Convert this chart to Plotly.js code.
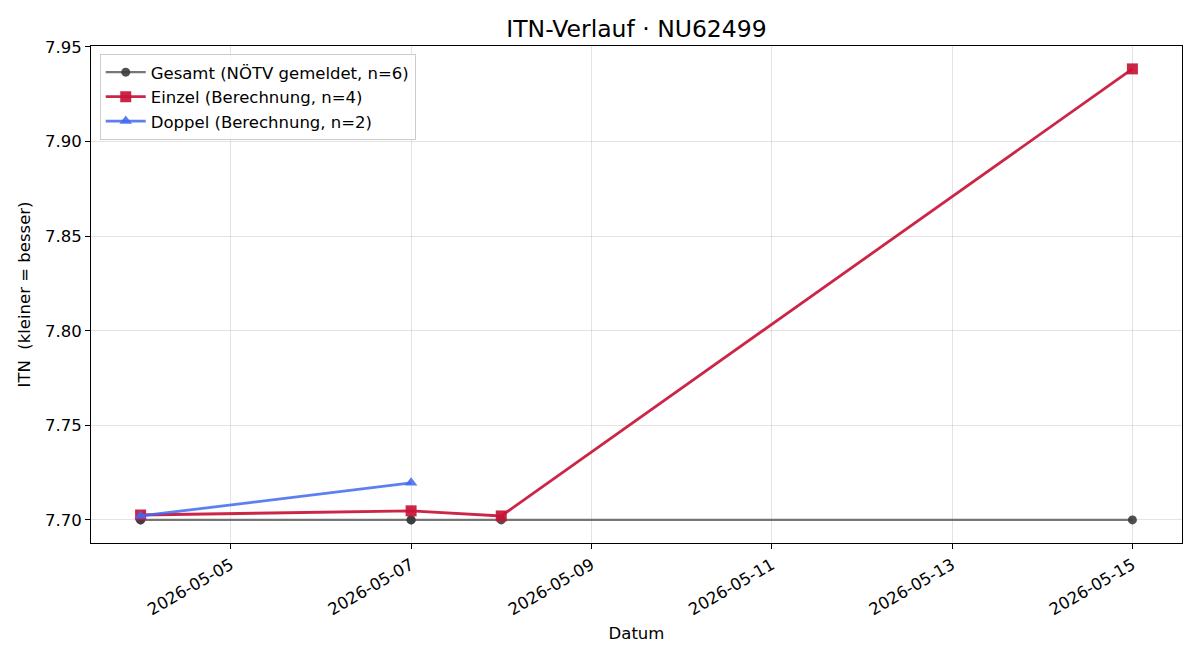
<!DOCTYPE html>
<html>
<head>
<meta charset="utf-8">
<script src="https://cdn.plot.ly/plotly-3.0.1.min.js"></script>
<style>html,body{margin:0;padding:0;background:#fff;}#chart{width:1200px;height:660px;}</style>
</head>
<body>
<div id="chart"></div>
<script>
const gesamtDates = ['2026-05-04', '2026-05-04', '2026-05-07', '2026-05-07', '2026-05-08', '2026-05-15'];
const gesamtValues = [7.70, 7.70, 7.70, 7.70, 7.70, 7.70];
const einzelDates = ['2026-05-04', '2026-05-07', '2026-05-08', '2026-05-15'];
const einzelValues = [7.7026, 7.7048, 7.7021, 7.9384];
const doppelDates = ['2026-05-04', '2026-05-07'];
const doppelValues = [7.7021, 7.7196];

const font = 'DejaVu Sans, sans-serif';
const fs = 16.5;

const traces = [
  {
    x: gesamtDates, y: gesamtValues, mode: 'lines+markers', type: 'scatter',
    name: 'Gesamt (NÖTV gemeldet, n=6)',
    line: {color: 'rgba(95,95,95,0.85)', width: 2.2},
    marker: {symbol: 'circle', size: 9, color: 'rgba(60,60,60,0.9)'}
  },
  {
    x: einzelDates, y: einzelValues, mode: 'lines+markers', type: 'scatter',
    name: 'Einzel (Berechnung, n=4)',
    line: {color: 'rgba(200,20,55,0.92)', width: 2.8},
    marker: {symbol: 'square', size: 11, color: 'rgba(200,20,55,0.92)'}
  },
  {
    x: doppelDates, y: doppelValues, mode: 'lines+markers', type: 'scatter',
    name: 'Doppel (Berechnung, n=2)',
    line: {color: 'rgba(65,105,240,0.85)', width: 2.8},
    marker: {symbol: 'triangle-up', size: 11, color: 'rgba(65,105,240,0.85)'}
  }
];

const layout = {
  width: 1200, height: 660,
  paper_bgcolor: '#fff', plot_bgcolor: '#fff',
  margin: {l: 91, r: 18, t: 46, b: 117},
  font: {family: font, size: fs, color: '#000'},
  title: {text: 'ITN-Verlauf · NU62499', font: {family: font, size: 23.5, color: '#000'}, x: 0.5, xref: 'paper', xanchor: 'center', y: 0.957, yanchor: 'middle', yref: 'container'},
  showlegend: true,
  legend: {x: 0.008, y: 0.984, xanchor: 'left', yanchor: 'top', bgcolor: 'rgba(255,255,255,0.8)', bordercolor: '#cccccc', borderwidth: 1, font: {family: font, size: fs}, tracegroupgap: 0, itemwidth: 40},
  xaxis: {
    type: 'date',
    range: ['2026-05-03 10:48', '2026-05-15 13:12'],
    tick0: '2026-05-05', dtick: 2 * 86400000,
    tickformat: '%Y-%m-%d', tickangle: -30,
    showgrid: true, gridcolor: 'rgba(176,176,176,0.35)', gridwidth: 1,
    showline: true, linecolor: '#000', linewidth: 1, mirror: true,
    ticks: 'outside', ticklen: 5, tickcolor: '#000',
    zeroline: false,
    tickfont: {family: font, size: fs},
    title: {text: 'Datum', font: {family: font, size: fs}, standoff: 9}
  },
  yaxis: {
    range: [7.6878, 7.9505],
    tick0: 7.70, dtick: 0.05, tickformat: '.2f',
    showgrid: true, gridcolor: 'rgba(176,176,176,0.35)', gridwidth: 1,
    showline: true, linecolor: '#000', linewidth: 1, mirror: true,
    ticks: 'outside', ticklen: 5, tickcolor: '#000',
    zeroline: false,
    tickfont: {family: font, size: fs},
    title: {text: 'ITN\u00a0\u00a0(kleiner = besser)', font: {family: font, size: fs}, standoff: 10}
  }
};

Plotly.newPlot('chart', traces, layout, {displayModeBar: false, staticPlot: true});
</script>
</body>
</html>
